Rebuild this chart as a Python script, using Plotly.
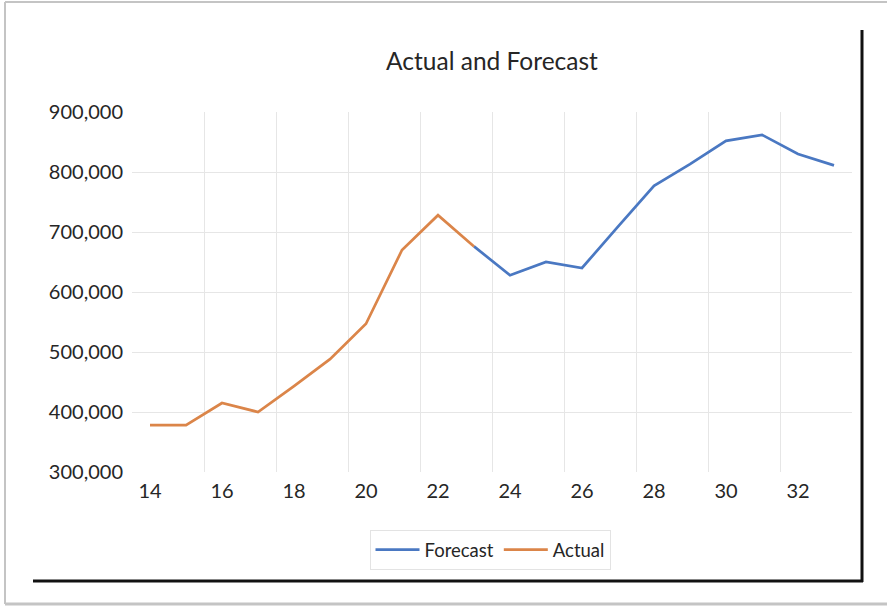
import plotly.graph_objects as go

# ---- data ----
actual_periods = [14, 15, 16, 17, 18, 19, 20, 21, 22, 23]
actual_values = [378000, 378000, 415000, 400000, 443000, 488000, 547000, 670000, 728000, 676000]

forecast_periods = [23, 24, 25, 26, 27, 28, 29, 30, 31, 32, 33]
forecast_values = [676000, 628000, 650000, 640000, 709000, 777000, 813000, 852000, 862000, 830000, 811000]

x_tick_values = [14, 16, 18, 20, 22, 24, 26, 28, 30, 32]
x_tick_labels = ["14", "16", "18", "20", "22", "24", "26", "28", "30", "32"]
y_tick_values = [300000, 400000, 500000, 600000, 700000, 800000, 900000]

# ---- layout geometry (pixels) ----
W, H = 887, 611
PL, PR, PT, PB = 132, 852, 112, 472  # plot area box


def px(xpix):
    return (xpix - PL) / (PR - PL)


def py(ypix):
    return (PB - ypix) / (PB - PT)


FONT = "Lato, 'Open Sans', sans-serif"
TEXT = "#262626"

fig = go.Figure()
fig.add_trace(go.Scatter(
    x=forecast_periods, y=forecast_values, name="Forecast", mode="lines",
    line=dict(color="#4A78C2", width=2.7),
))
fig.add_trace(go.Scatter(
    x=actual_periods, y=actual_values, name="Actual", mode="lines",
    line=dict(color="#DB8549", width=2.7),
))

grid_x = [v + 0.5 for v in range(15, 32, 2)]
grid_y = y_tick_values[1:-1]

frame = []
gray = "#C4C4C4"
frame.append(dict(type="line", xref="paper", yref="paper", x0=px(5), x1=px(5), y0=py(2), y1=py(604),
                  line=dict(color=gray, width=2)))
frame.append(dict(type="line", xref="paper", yref="paper", x0=px(5), x1=px(887), y0=py(2), y1=py(2),
                  line=dict(color=gray, width=2)))
frame.append(dict(type="line", xref="paper", yref="paper", x0=px(5), x1=px(887), y0=py(604), y1=py(604),
                  line=dict(color=gray, width=3)))
frame.append(dict(type="line", xref="paper", yref="paper", x0=px(862), x1=px(862), y0=py(30), y1=py(582),
                  line=dict(color="#111111", width=3)))
frame.append(dict(type="line", xref="paper", yref="paper", x0=px(33), x1=px(863), y0=py(581), y1=py(581),
                  line=dict(color="#111111", width=3)))

fig.update_layout(
    width=W, height=H,
    margin=dict(l=PL, r=W - PR, t=PT, b=H - PB, pad=0),
    paper_bgcolor="white", plot_bgcolor="white",
    font=dict(family=FONT, color=TEXT, size=20),
    title=dict(text="Actual and Forecast", x=0.5, xref="paper", xanchor="center",
               y=1 - 61 / H, yref="container", yanchor="middle",
               font=dict(family=FONT, size=24.5, color=TEXT)),
    showlegend=True,
    legend=dict(orientation="h", x=px(490), xanchor="center", y=py(530), yanchor="top",
                bordercolor="#E3E3E3", borderwidth=1, bgcolor="white",
                font=dict(family=FONT, size=18.5, color=TEXT), itemwidth=44,
                traceorder="normal"),
    shapes=frame,
)

fig.update_xaxes(
    range=[13.5, 33.5], tickvals=x_tick_values, ticktext=x_tick_labels,
    showgrid=False, zeroline=False, showline=False,
    ticks="outside", ticklen=1, tickcolor="rgba(0,0,0,0)",
    tickfont=dict(family=FONT, size=20, color=TEXT),
    minor=dict(tickvals=grid_x, showgrid=True, gridcolor="#E6E6E6", gridwidth=1, ticks=""),
)
fig.update_yaxes(
    range=[300000, 900000], tickvals=y_tick_values, tickformat=",d",
    showgrid=False, zeroline=False, showline=False,
    ticks="outside", ticklen=4, tickcolor="rgba(0,0,0,0)",
    tickfont=dict(family=FONT, size=20, color=TEXT),
    minor=dict(tickvals=grid_y, showgrid=True, gridcolor="#E6E6E6", gridwidth=1, ticks=""),
)

fig.write_html("out.html", config={"displayModeBar": False},
               post_script="document.body.style.margin='0';")
